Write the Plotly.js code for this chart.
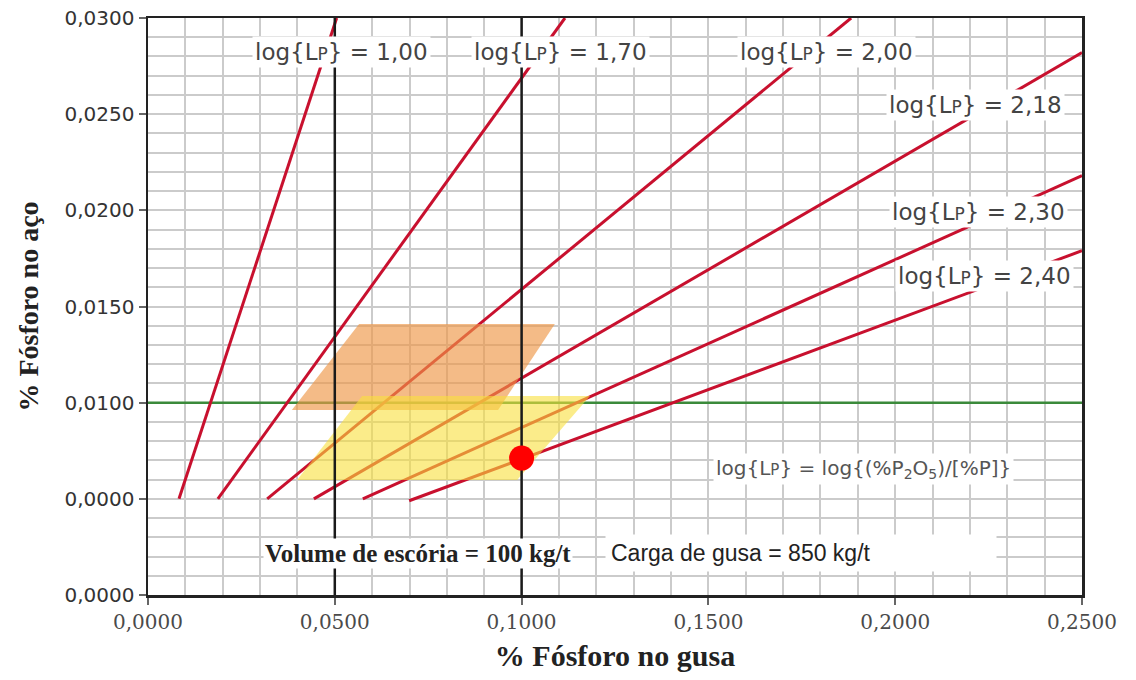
<!DOCTYPE html>
<html>
<head>
<meta charset="utf-8">
<script src="https://cdn.plot.ly/plotly-3.0.1.min.js"></script>
<style>html,body{margin:0;padding:0;background:#fff}</style>
</head>
<body>
<div id="chart" style="width:1136px;height:680px"></div>
<script>
// Partition lines log{Lp}: end points as (% P no gusa, % P no aço)
const lpValues = ['1,00', '1,70', '2,00', '2,18', '2,30', '2,40'];
const lpX = [[0.0083, 0.0505], [0.0187, 0.1116], [0.0319, 0.1882], [0.0444, 0.2500], [0.0575, 0.2500], [0.0699, 0.2500]];
const lpY = [[0.0050, 0.0300], [0.0050, 0.0300], [0.0050, 0.0300], [0.0050, 0.0282], [0.0050, 0.0218], [0.0049, 0.0179]];

// Target phosphorus in steel and reference hot-metal contents
const targetSteelP = 0.0100;
const hotMetalRefs = [0.05, 0.10];

// Operating zones
const orangeX = [0.0565, 0.1089, 0.0937, 0.0385];
const orangeY = [0.01409, 0.01409, 0.00962, 0.00962];
const yellowX = [0.0573, 0.1183, 0.0988, 0.0399];
const yellowY = [0.01035, 0.01035, 0.00598, 0.00598];

// Operating point
const pointX = [0.1000];
const pointY = [0.00712];

// Axis ticks
const xTickVals = [0, 0.05, 0.10, 0.15, 0.20, 0.25];
const xTickText = ['0,0000', '0,0500', '0,1000', '0,1500', '0,2000', '0,2500'];
const yTickVals = [0, 0.005, 0.010, 0.015, 0.020, 0.025, 0.030];
const yTickText = ['0,0000', '0,0000', '0,0100', '0,0150', '0,0200', '0,0250', '0,0300'];

const RED = '#c8102e';
const traces = [];

// green target line
traces.push({
  x: [0, 0.25], y: [targetSteelP, targetSteelP], mode: 'lines',
  line: {color: '#3b8a3b', width: 2.5}, hoverinfo: 'skip', showlegend: false
});

// partition lines
lpValues.forEach((v, i) => {
  traces.push({
    x: lpX[i], y: lpY[i], mode: 'lines', name: 'log{Lp} = ' + v,
    line: {color: RED, width: 3}, hoverinfo: 'skip', showlegend: false
  });
});

// translucent operating zones, drawn over the lines
traces.push({
  x: orangeX, y: orangeY, mode: 'none', fill: 'toself',
  fillcolor: 'rgba(238,150,70,0.65)', hoverinfo: 'skip', showlegend: false
});
traces.push({
  x: yellowX, y: yellowY, mode: 'none', fill: 'toself',
  fillcolor: 'rgba(248,224,60,0.6)', hoverinfo: 'skip', showlegend: false
});

// black reference verticals
hotMetalRefs.forEach(x0 => {
  traces.push({
    x: [x0, x0], y: [0, 0.03], mode: 'lines',
    line: {color: '#1a1a1a', width: 2.5}, hoverinfo: 'skip', showlegend: false
  });
});

// operating point
traces.push({
  x: pointX, y: pointY, mode: 'markers',
  marker: {color: '#ff0000', size: 25}, hoverinfo: 'skip', showlegend: false
});

const lpText = v => 'log{L<span style="font-size:17px">P</span>} = ' + v;
const labelFont = {family: 'DejaVu Sans', size: 23, color: '#444'};
const lpLabelPos = [
  [0.0517, 0.02825], [0.1103, 0.02825], [0.1815, 0.02825],
  [0.2214, 0.02548], [0.2222, 0.01991], [0.2238, 0.01659]
];

const annotations = lpValues.map((v, i) => ({
  x: lpLabelPos[i][0], y: lpLabelPos[i][1], xref: 'x', yref: 'y',
  text: lpText(v), showarrow: false, font: labelFont,
  bgcolor: '#ffffff', borderpad: 2, xanchor: 'center', yanchor: 'middle'
}));

annotations.push({
  x: 0.1914, y: 0.00655, xref: 'x', yref: 'y', showarrow: false,
  text: 'log{L<span style="font-size:15px">P</span>} = log{(%P<sub>2</sub>O<sub>5</sub>)/[%P]}',
  font: {family: 'DejaVu Sans', size: 20, color: '#555'},
  bgcolor: '#ffffff', borderpad: 2
});
annotations.push({
  x: 0.0723, y: 0.00218, xref: 'x', yref: 'y', showarrow: false,
  text: '<b>Volume de escória = 100 kg/t</b>',
  font: {family: 'Liberation Serif', size: 25, color: '#222'},
  bgcolor: '#ffffff', borderpad: 1
});
annotations.push({
  x: 0.1223, y: 0.00218, xref: 'x', yref: 'y', showarrow: false,
  xanchor: 'left', align: 'left', width: 380,
  text: 'Carga de gusa = 850 kg/t',
  font: {family: 'Liberation Sans', size: 23, color: '#222'},
  bgcolor: '#ffffff', borderpad: 5
});

const gridColor = '#cbcbcb';
const layout = {
  width: 1136, height: 680,
  margin: {l: 148, r: 54, t: 18, b: 85},
  paper_bgcolor: '#ffffff', plot_bgcolor: '#ffffff',
  showlegend: false,
  xaxis: {
    range: [0, 0.25], tickmode: 'array', tickvals: xTickVals, ticktext: xTickText,
    showgrid: true, gridcolor: gridColor, gridwidth: 2, zeroline: false,
    showline: true, mirror: true, linecolor: '#222', linewidth: 2.5,
    ticks: 'outside', ticklen: 7, tickwidth: 2, tickcolor: '#666',
    tickfont: {family: 'DejaVu Serif', size: 20, color: '#4a4a4a'},
    minor: {tick0: 0, dtick: 0.01, showgrid: true, gridcolor: gridColor, gridwidth: 2, ticks: ''},
    title: {text: '<b>% Fósforo no gusa</b>', standoff: 13,
            font: {family: 'Liberation Serif', size: 30, color: '#222'}},
    automargin: false, fixedrange: true
  },
  yaxis: {
    range: [0, 0.03], tickmode: 'array', tickvals: yTickVals, ticktext: yTickText,
    showgrid: true, gridcolor: gridColor, gridwidth: 2, zeroline: false,
    showline: true, mirror: true, linecolor: '#222', linewidth: 2.5,
    ticks: 'outside', ticklen: 7, tickwidth: 2, tickcolor: '#666',
    tickfont: {family: 'DejaVu Sans', size: 20, color: '#333'},
    minor: {tick0: 0, dtick: 0.001, showgrid: true, gridcolor: gridColor, gridwidth: 2, ticks: ''},
    title: {text: '<b>% Fósforo no aço</b>', standoff: 18,
            font: {family: 'Liberation Serif', size: 28, color: '#222'}},
    automargin: false, fixedrange: true
  },
  annotations: annotations
};

Plotly.newPlot('chart', traces, layout, {displayModeBar: false, staticPlot: true});
</script>
</body>
</html>
